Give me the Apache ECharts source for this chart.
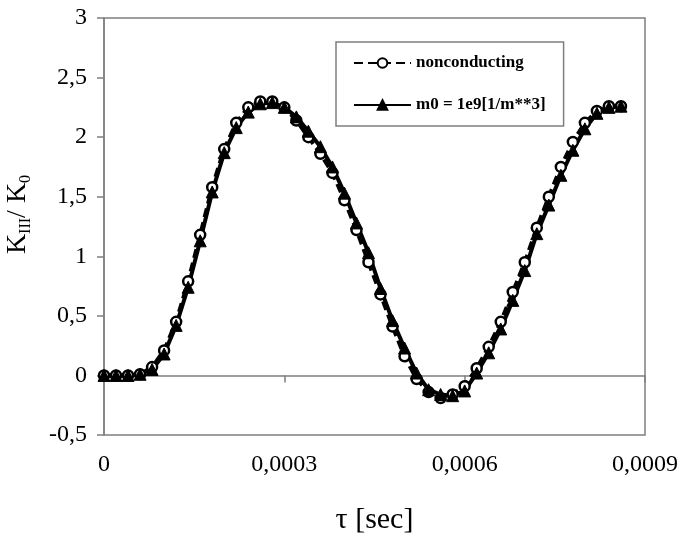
<!DOCTYPE html>
<html>
<head>
<meta charset="utf-8">
<script src="https://cdn.jsdelivr.net/npm/echarts@6/dist/echarts.min.js"></script>
<style>
  html, body { margin: 0; padding: 0; background: #fff; }
  #main { width: 681px; height: 540px; }
</style>
</head>
<body>
<div id="main"></div>
<script>
// time points, step 0.00002 s
var tau = [
  0, 0.00002, 0.00004, 0.00006, 0.00008, 0.0001, 0.00012, 0.00014, 0.00016, 0.00018,
  0.0002, 0.00022, 0.00024, 0.00026, 0.00028, 0.0003, 0.00032, 0.00034, 0.00036, 0.00038,
  0.0004, 0.00042, 0.00044, 0.00046, 0.00048, 0.0005, 0.00052, 0.00054, 0.00056, 0.00058,
  0.0006, 0.00062, 0.00064, 0.00066, 0.00068, 0.0007, 0.00072, 0.00074, 0.00076, 0.00078,
  0.0008, 0.00082, 0.00084, 0.00086
];
var nonconducting = [
  0, 0, 0, 0.01, 0.07, 0.21, 0.45, 0.79, 1.18, 1.58,
  1.90, 2.12, 2.25, 2.30, 2.30, 2.25, 2.14, 2.00, 1.86, 1.70,
  1.47, 1.22, 0.95, 0.68, 0.41, 0.16, -0.03, -0.14, -0.19, -0.16,
  -0.09, 0.06, 0.24, 0.45, 0.70, 0.95, 1.24, 1.50, 1.75, 1.96,
  2.12, 2.22, 2.26, 2.26
];
var m0 = [
  0, 0, 0, 0.01, 0.05, 0.18, 0.42, 0.74, 1.13, 1.54,
  1.87, 2.08, 2.21, 2.28, 2.29, 2.25, 2.17, 2.05, 1.92, 1.75,
  1.53, 1.28, 1.03, 0.73, 0.46, 0.23, 0.02, -0.12, -0.16, -0.17,
  -0.13, 0.02, 0.19, 0.39, 0.63, 0.88, 1.19, 1.43, 1.68, 1.89,
  2.07, 2.20, 2.25, 2.26
];
var seriesNames = ['nonconducting', 'm0 = 1e9[1/m**3]'];

var myChart = echarts.init(document.getElementById('main'));
var serif = '"Liberation Serif", "Times New Roman", serif';
var axisGray = '#7f7f7f';

function pairs(ys) {
  return tau.map(function (t, i) { return [t, ys[i]]; });
}

var option = {
  animation: false,
  backgroundColor: '#fff',
  grid: {
    left: 104, right: 36, top: 18, bottom: 105,
    containLabel: false,
    outerBoundsMode: 'none',
    show: true, borderColor: axisGray, borderWidth: 1.5
  },
  legend: {
    orient: 'vertical',
    left: 336, top: 42,
    padding: [11, 18, 11, 17],
    itemGap: 22,
    itemWidth: 57,
    itemHeight: 12,
    borderColor: axisGray,
    borderWidth: 1.5,
    backgroundColor: '#fff',
    textStyle: { fontFamily: serif, fontWeight: 'bold', fontSize: 17, color: '#000', lineHeight: 20 },
    data: seriesNames
  },
  xAxis: {
    type: 'value',
    min: 0, max: 0.0009, interval: 0.0003,
    name: 'τ [sec]',
    nameLocation: 'middle',
    nameGap: 70,
    nameTextStyle: { fontFamily: serif, fontSize: 30, color: '#000' },
    splitLine: { show: false },
    axisLine: { lineStyle: { color: axisGray, width: 1.5 } },
    axisTick: { length: 7, lineStyle: { color: axisGray, width: 1.5 } },
    axisLabel: {
      fontFamily: serif, fontSize: 24, color: '#000', margin: 18,
      formatter: function (v) { return v === 0 ? '0' : v.toFixed(4).replace('.', ','); }
    }
  },
  yAxis: {
    type: 'value',
    min: -0.5, max: 3, interval: 0.5,
    name: '{a|K}{b|III}{a|/ K}{b|0}',
    nameLocation: 'middle',
    nameRotate: 90,
    nameGap: 70,
    nameTextStyle: {
      color: '#000',
      padding: [0, 0, 0, 24],
      rich: {
        a: { fontFamily: serif, fontSize: 28, color: '#000' },
        b: { fontFamily: serif, fontSize: 16, color: '#000', padding: [16, 0, 0, 0] }
      }
    },
    splitLine: { show: false },
    axisLine: { lineStyle: { color: axisGray, width: 1.5 } },
    axisTick: { length: 7, lineStyle: { color: axisGray, width: 1.5 } },
    axisLabel: {
      fontFamily: serif, fontSize: 24, color: '#000', margin: 17,
      formatter: function (v) { return String(v).replace('.', ','); }
    }
  },
  series: [
    {
      name: seriesNames[0],
      type: 'line',
      data: pairs(nonconducting),
      symbol: 'circle',
      symbolSize: 10,
      itemStyle: { color: '#fff', borderColor: '#000', borderWidth: 2.5 },
      lineStyle: { color: '#000', width: 4, type: [9, 5] }
    },
    {
      name: seriesNames[1],
      type: 'line',
      data: pairs(m0),
      symbol: 'triangle',
      symbolSize: 12,
      itemStyle: { color: '#000', borderColor: '#000', borderWidth: 1 },
      lineStyle: { color: '#000', width: 4 }
    }
  ]
};
myChart.setOption(option);
</script>
</body>
</html>
